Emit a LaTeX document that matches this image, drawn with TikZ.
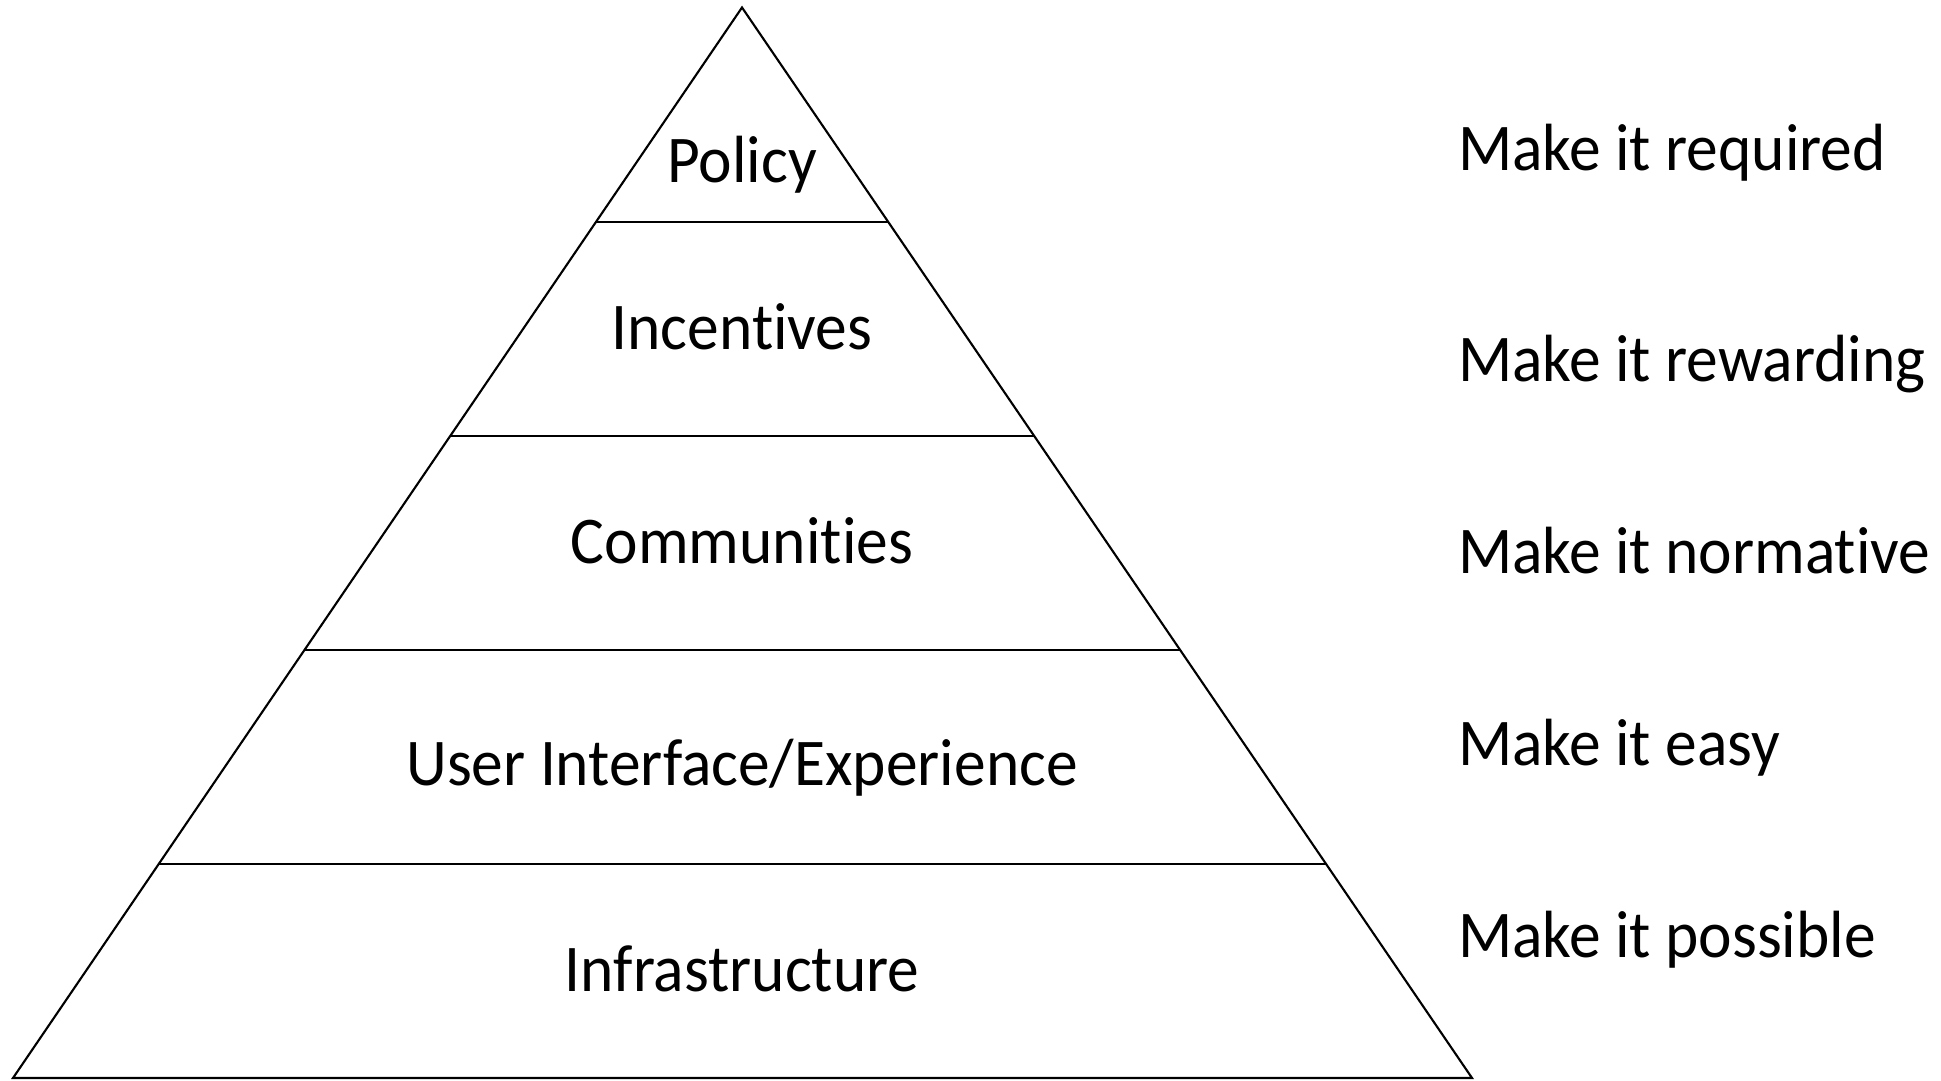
\documentclass[tikz,border=0pt]{standalone}
\usepackage{fontspec}
\setmainfont{Carlito}[Ligatures=NoCommon, FakeStretch=0.95]
\usetikzlibrary{calc}

\tikzset{
  layer/.style={anchor=base, inner sep=0pt, font=\fontsize{19}{23}\selectfont},
  motto/.style={anchor=base west, inner sep=0pt, font=\fontsize{19}{23}\selectfont}
}

\begin{document}
\begin{tikzpicture}[x=1cm, y=-1cm, line width=0.6pt]
            \useasboundingbox (0, 0) rectangle (19.41, 10.80);

            \coordinate (apex) at (7.42, 0.075);
            \coordinate (bl) at (0.13, 10.78);
            \coordinate (br) at (14.72, 10.78);
            \draw (apex) -- (bl) -- (br) -- cycle;

            \foreach \t in {0.2, 0.4, 0.6, 0.8}
                \draw ($(apex)!\t!(bl)$) -- ($(apex)!\t!(br)$);

            \node[layer] (policy) at (7.42, 1.827) {Policy};
            \node[layer] (incentives) at (7.42, 3.493) {Incentives};
            \node[layer] (communities) at (7.42, 5.633) {Communities};
            \node[layer] (ux) at (7.42, 7.85) {User Interface/Experience};
            \node[layer] (infra) at (7.42, 9.917) {Infrastructure};

            \node[motto] (required) at (14.57, 1.707) {Make it required};
            \node[motto] (rewarding) at (14.57, 3.817) {Make it rewarding};
            \node[motto] (normative) at (14.57, 5.733) {Make it normative};
            \node[motto] (easy) at (14.57, 7.657) {Make it easy};
            \node[motto] (possible) at (14.57, 9.573) {Make it possible};
\end{tikzpicture}
\end{document}
